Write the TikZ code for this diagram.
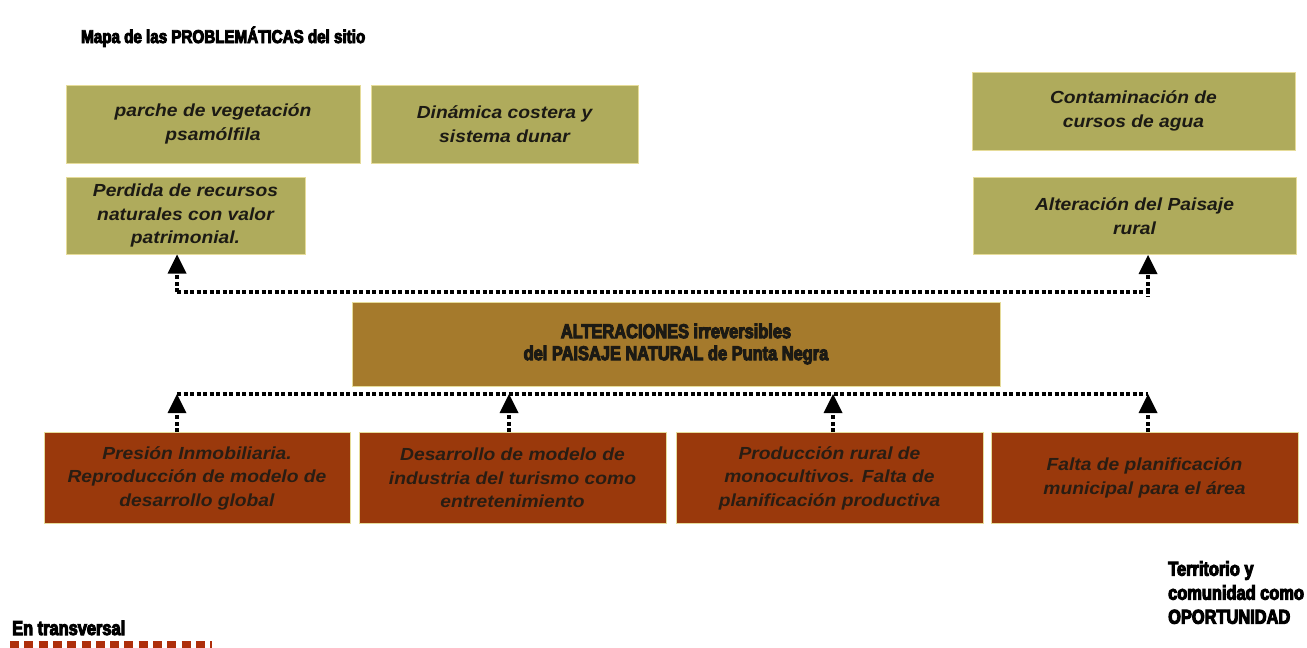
\documentclass[tikz,border=0pt]{standalone}
\usepackage{fontspec}
\setmainfont{Liberation Sans}
\newfontfamily\boxfont{Liberation Sans}[FakeStretch=1.1]
\newfontfamily\condfont{Liberation Sans Bold}[FakeStretch=0.82, FakeBold=5]
\usetikzlibrary{arrows.meta}
\definecolor{olivebox}{HTML}{AFAB5C}
\definecolor{goldbox}{HTML}{A57A2C}
\definecolor{rustbox}{HTML}{9A390C}
\definecolor{rimline}{HTML}{E6DC9A}
\definecolor{textdark}{HTML}{1C1A14}
\tikzset{
  problem/.style={draw=rimline, line width=1pt, fill=olivebox, text=textdark, align=center,
    font=\boxfont\bfseries\itshape\fontsize{17.5}{23.5}\selectfont, inner sep=0pt},
  cause/.style={problem, fill=rustbox, text=textdark!90!rustbox},
  core/.style={problem, fill=goldbox, font=\condfont\fontsize{20}{22}\selectfont},
  dotline/.style={line width=3.5pt, dash pattern=on 4pt off 2.5pt},
  uparrow/.style={dotline, -{Triangle[width=19pt,length=19pt,line width=0pt]}},
  heading/.style={font=\condfont\fontsize{18.5}{24}\selectfont, inner sep=0pt, align=left}
}
\begin{document}
\begin{tikzpicture}[x=1pt,y=-1pt]
\useasboundingbox (0,0) rectangle (1307,648);
% titulo
\node[heading, anchor=base west] (title) at (81,43) {Mapa de las PROBLEMÁTICAS del sitio};
% problematicas superiores
\node[problem, minimum width=294pt, minimum height=78pt] (veg) at (213,124) {parche de vegetación\\psamólfila};
\node[problem, minimum width=267pt, minimum height=78pt] (dun) at (504.5,124) {Dinámica costera y\\sistema dunar};
\node[problem, minimum width=323pt, minimum height=78pt] (agua) at (1133.5,111) {Contaminación de\\cursos de agua};
\node[problem, minimum width=239pt, minimum height=77pt] (perd) at (185.5,215.5) {Perdida de recursos\\naturales con valor\\patrimonial.};
\node[problem, minimum width=323pt, minimum height=77pt] (rural) at (1134.5,216) {Alteración del Paisaje\\rural};
% problema central
\node[core, minimum width=648pt, minimum height=84pt] (alt) at (676,344) {ALTERACIONES irreversibles\\del PAISAJE NATURAL de Punta Negra};
% causas
\node[cause, minimum width=306pt, minimum height=91pt] (inmo) at (197,478) {Presión Inmobiliaria.\\Reproducción de modelo de\\desarrollo global};
\node[cause, minimum width=307pt, minimum height=91pt] (turi) at (512.5,478) {Desarrollo de modelo de\\industria del turismo como\\entretenimiento};
\node[cause, minimum width=307pt, minimum height=91pt] (mono) at (829.5,478) {Producción rural de\\monocultivos. Falta de\\planificación productiva};
\node[cause, minimum width=307pt, minimum height=91pt] (plan) at (1144.5,478) {Falta de planificación\\municipal para el área};
% lineas punteadas
\coordinate (tl) at (177,292);
\coordinate (tr) at (1148,292);
\coordinate (b1) at (177,394);
\coordinate (b2) at (509,394);
\coordinate (b3) at (833,394);
\coordinate (b4) at (1148,394);
\draw[dotline] (tl) -- (tr) -- ++(0,5);
\draw[dotline] (b1) -- (b4);
\draw[uparrow] (tl) -- (tl |- perd.south);
\draw[uparrow] (tr) -- (tr |- rural.south);
\foreach \b/\n in {b1/inmo, b2/turi, b3/mono, b4/plan}
  \draw[uparrow] (\b |- \n.north) -- (\b);
% notas
\node[heading, anchor=north west, font=\condfont\fontsize{20}{24}\selectfont] (opor) at (1168,561) {Territorio y\\comunidad como\\OPORTUNIDAD};
\node[heading, anchor=base west, font=\condfont\fontsize{20}{24}\selectfont] (trans) at (12,635) {En transversal};
\coordinate (rs) at (10,645);
\coordinate (re) at (212,645);
\draw[rustbox!80!red, line width=8pt, dash pattern=on 9pt off 5.3pt] (rs) -- (re);
\end{tikzpicture}
\end{document}
